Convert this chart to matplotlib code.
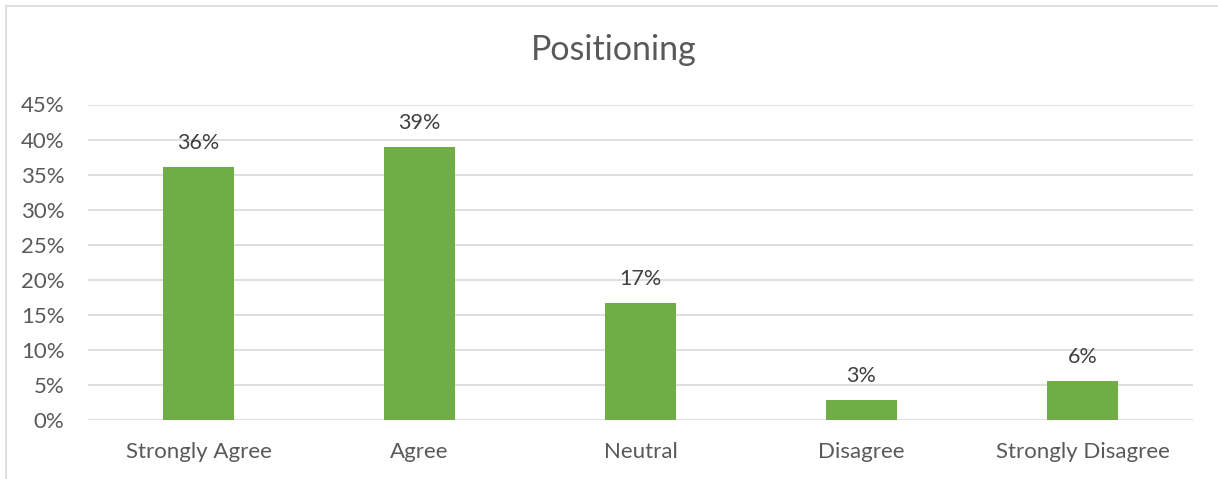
import matplotlib.pyplot as plt
from matplotlib.ticker import PercentFormatter
from matplotlib.lines import Line2D

# survey answers for "Positioning"
categories = ['Strongly Agree', 'Agree', 'Neutral', 'Disagree', 'Strongly Disagree']
shares = [36.1, 38.9, 16.7, 2.8, 5.6]
labels = ['36%', '39%', '17%', '3%', '6%']
yticks = [0, 5, 10, 15, 20, 25, 30, 35, 40, 45]

plt.rcParams['font.family'] = ['Lato', 'DejaVu Sans']

fig = plt.figure(figsize=(12.18, 4.79), dpi=100)
ax = fig.add_axes([88 / 1218, 1 - 420 / 479, 1105 / 1218, 315.5 / 479])

x = range(len(categories))
ax.bar(x, shares, width=0.317, color='#70AD47', zorder=3)
for xi, v, lab in zip(x, shares, labels):
    ax.annotate(lab, (xi, v), xytext=(0, 10), textcoords='offset points',
                ha='center', va='bottom', fontsize=15.5, color='#404040')

ax.set_xlim(-0.5, len(categories) - 0.5)
ax.set_ylim(0, 45)
ax.set_yticks(yticks)
ax.yaxis.set_major_formatter(PercentFormatter(decimals=0))
ax.set_xticks(list(x))
ax.set_xticklabels(categories)
ax.tick_params(axis='both', length=0, labelsize=16, colors='#595959')
ax.tick_params(axis='x', pad=16)
ax.tick_params(axis='y', pad=17)
ax.grid(axis='y', color='#D9D9D9', linewidth=1.2, zorder=0)
for s in ax.spines.values():
    s.set_visible(False)

fig.text(614 / 1218, 1 - 50 / 479, 'Positioning', ha='center', va='center',
         fontsize=24.5, color='#595959')

# chart frame (left and top edges visible)
fig.add_artist(Line2D([6 / 1218, 6 / 1218], [0, 1 - 6 / 479], transform=fig.transFigure,
                      color='#D9D9D9', linewidth=1.2))
fig.add_artist(Line2D([6 / 1218, 1], [1 - 6 / 479, 1 - 6 / 479], transform=fig.transFigure,
                      color='#D9D9D9', linewidth=1.2))

fig.savefig('out.png', dpi=100, facecolor='white')
